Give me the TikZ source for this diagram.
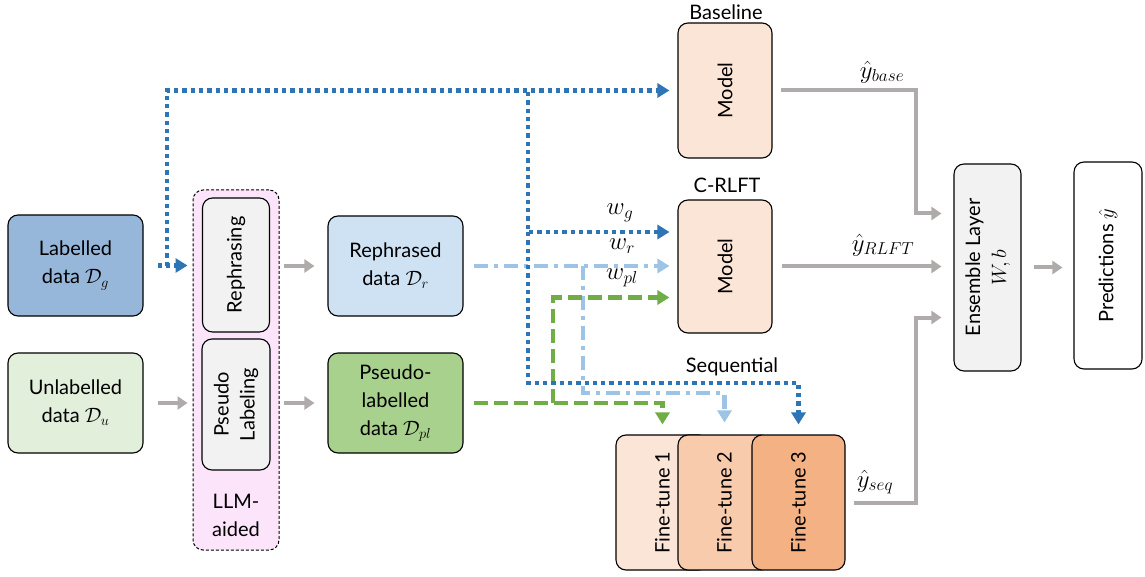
\documentclass[tikz,border=0pt]{standalone}
\usepackage{fontspec}
\setmainfont{Lato}
\usetikzlibrary{arrows.meta,calc}
\definecolor{labfill}{HTML}{96B7DA}
\definecolor{unlfill}{HTML}{E2EFDA}
\definecolor{rdfill}{HTML}{CFE2F3}
\definecolor{plfill}{HTML}{A9D18E}
\definecolor{llmfill}{HTML}{FCE4FA}
\definecolor{grayfill}{HTML}{F2F2F2}
\definecolor{modfill}{HTML}{FBE5D6}
\definecolor{fttwo}{HTML}{F8CBAD}
\definecolor{ftthree}{HTML}{F4B183}
\definecolor{arrgray}{HTML}{AFABAB}
\definecolor{dblue}{HTML}{2E75B6}
\definecolor{lblue}{HTML}{9DC3E6}
\definecolor{dgreen}{HTML}{70AD47}
\begin{document}
\begin{tikzpicture}[x=1pt,y=-1pt,font=\fontsize{20}{28}\selectfont,
  box/.style={draw=black,line width=1.1pt,rounded corners=10pt,inner sep=0pt,align=center},
  garrow/.style={draw=arrgray,line width=4pt,-{Triangle[length=10pt,width=13pt]}},
  bdot/.style={draw=dblue,line width=4.3pt,dash pattern=on 4.3pt off 4pt,-{Triangle[length=12pt,width=14pt]}},
  lbdash/.style={draw=lblue,line width=4.3pt,dash pattern=on 14pt off 6pt on 4pt off 6pt,-{Triangle[length=12pt,width=14pt]}},
  gdash/.style={draw=dgreen,line width=4.3pt,dash pattern=on 14pt off 6pt,-{Triangle[length=12pt,width=14pt]}},
  lbl/.style={inner sep=0pt},
  mlbl/.style={inner sep=0pt,font=\fontsize{23}{28}\selectfont}]
\useasboundingbox (0,0) rectangle (1145,577);
% left data boxes
\node[box,fill=labfill,minimum width=135,minimum height=101] (lab) at (75.5,265.5) {Labelled\\data $\mathcal{D}_g$};
\node[box,fill=unlfill,minimum width=135,minimum height=100] (unl) at (75.5,403) {Unlabelled\\data $\mathcal{D}_u$};
% LLM aided
\node[draw=black,line width=1pt,dash pattern=on 3pt off 2pt,fill=llmfill,rounded corners=10pt,minimum width=86,minimum height=360,inner sep=0pt] (llm) at (236,370) {};
\node[box,fill=grayfill,minimum width=67,minimum height=134] (reph) at (236,265) {\rotatebox{90}{Rephrasing}};
\node[box,fill=grayfill,minimum width=68,minimum height=131] (pseudo) at (236,404.5) {\rotatebox{90}{\begin{tabular}{@{}c@{}}Pseudo\\[-2pt]Labeling\end{tabular}}};
\node[lbl,align=center] (llmlbl) at (236,515) {LLM-\\aided};
% generated data
\node[box,fill=rdfill,minimum width=135,minimum height=100] (rd) at (395.5,266) {Rephrased\\data $\mathcal{D}_r$};
\node[box,fill=plfill,minimum width=135,minimum height=100] (pld) at (395.5,403) {Pseudo-\\labelled\\data $\mathcal{D}_{pl}$};
% models
\node[box,fill=modfill,minimum width=94,minimum height=135] (base) at (725,90.5) {\rotatebox{90}{Model}};
\node[lbl] (baselbl) at (726,12) {Baseline};
\node[box,fill=modfill,minimum width=94,minimum height=133] (crlft) at (725,266.5) {\rotatebox{90}{Model}};
\node[lbl] (crlftlbl) at (727,185) {C-RLFT};
\node[box,fill=modfill,minimum width=93,minimum height=135] (ft1) at (662.5,502.5) {\rotatebox{90}{Fine-tune 1}};
\node[box,fill=fttwo,minimum width=93,minimum height=135] (ft2) at (724.5,502.5) {\rotatebox{90}{Fine-tune 2}};
\node[box,fill=ftthree,minimum width=93,minimum height=135] (ft3) at (798.5,502.5) {\rotatebox{90}{Fine-tune 3}};
\node[lbl] (seqlbl) at (732,367) {Sequential};
% ensemble and predictions
\node[box,fill=grayfill,minimum width=67,minimum height=207] (ens) at (987.5,267.5) {\rotatebox{90}{\begin{tabular}{@{}c@{}}Ensemble Layer\\[-2pt]$W,b$\end{tabular}}};
\node[box,fill=white,minimum width=68,minimum height=207] (pred) at (1108,265.5) {\rotatebox{90}{Predictions $\hat{y}$}};
% weights labels
\node[mlbl] (wg) at (620,213) {$w_g$};
\node[mlbl] (wr) at (622,246) {$w_r$};
\node[mlbl] (wpl) at (622,278) {$w_{pl}$};
\node[mlbl] (ybase) at (882,72) {$\hat{y}_{base}$};
\node[mlbl] (yrlft) at (883,245) {$\hat{y}_{RLFT}$};
\node[mlbl] (yseq) at (875,482) {$\hat{y}_{seq}$};
% junction coordinates
\coordinate (bj1) at (167,266);
\coordinate (bj2) at (528,92);
\coordinate (bj3) at (528,232);
\coordinate (bj4) at (528,383);
\coordinate (lj1) at (583,266);
\coordinate (lj2) at (583,393);
\coordinate (gj1) at (553,403);
\coordinate (e1) at ($(ens.west)+(0,-54)$);
\coordinate (e3) at ($(ens.west)+(0,50)$);
% gray arrows
\draw[garrow,shorten <=14pt,shorten >=5pt] (unl.east) -- (unl.east -| llm.west);
\draw[garrow,shorten <=4pt,shorten >=13pt] (rd.west -| llm.east) -- (rd.west);
\draw[garrow,shorten <=4pt,shorten >=13pt] (pld.west -| llm.east) -- (pld.west);
\draw[garrow,shorten <=8pt,shorten >=12pt] (base.east) -- ++(143,0) |- (e1);
\draw[garrow,shorten <=9pt,shorten >=12pt] (crlft.east) -- (crlft.east -| ens.west);
\draw[garrow,shorten <=8pt,shorten >=12pt] (ft3.east) -- ++(70,0) |- (e3);
\draw[garrow,shorten <=12pt,shorten >=11pt] (ens.east) -- (ens.east -| pred.west);
% light blue dash-dot
\draw[lbdash,shorten <=10pt,shorten >=8pt] (rd.east) -- (rd.east -| crlft.west);
\draw[lbdash,shorten >=12pt] (lj1) -- (lj2) -| (ft2.north);
% green dashed
\draw[gdash,shorten <=10pt,shorten >=10pt] (pld.east) -| (ft1.north);
\draw[gdash,shorten >=8pt] (gj1) |- ($(crlft.west)+(0,31)$);
% blue dotted
\draw[bdot,shorten <=14pt,shorten >=5pt] (lab.east) -- (lab.east -| llm.west);
\draw[bdot,shorten >=8pt] (bj1) |- (base.west);
\draw[bdot,shorten >=8pt] (bj2) |- (crlft.west |- bj3);
\draw[bdot,shorten >=10pt] (bj3) -- (bj4) -| (ft3.north);
\end{tikzpicture}
\end{document}
